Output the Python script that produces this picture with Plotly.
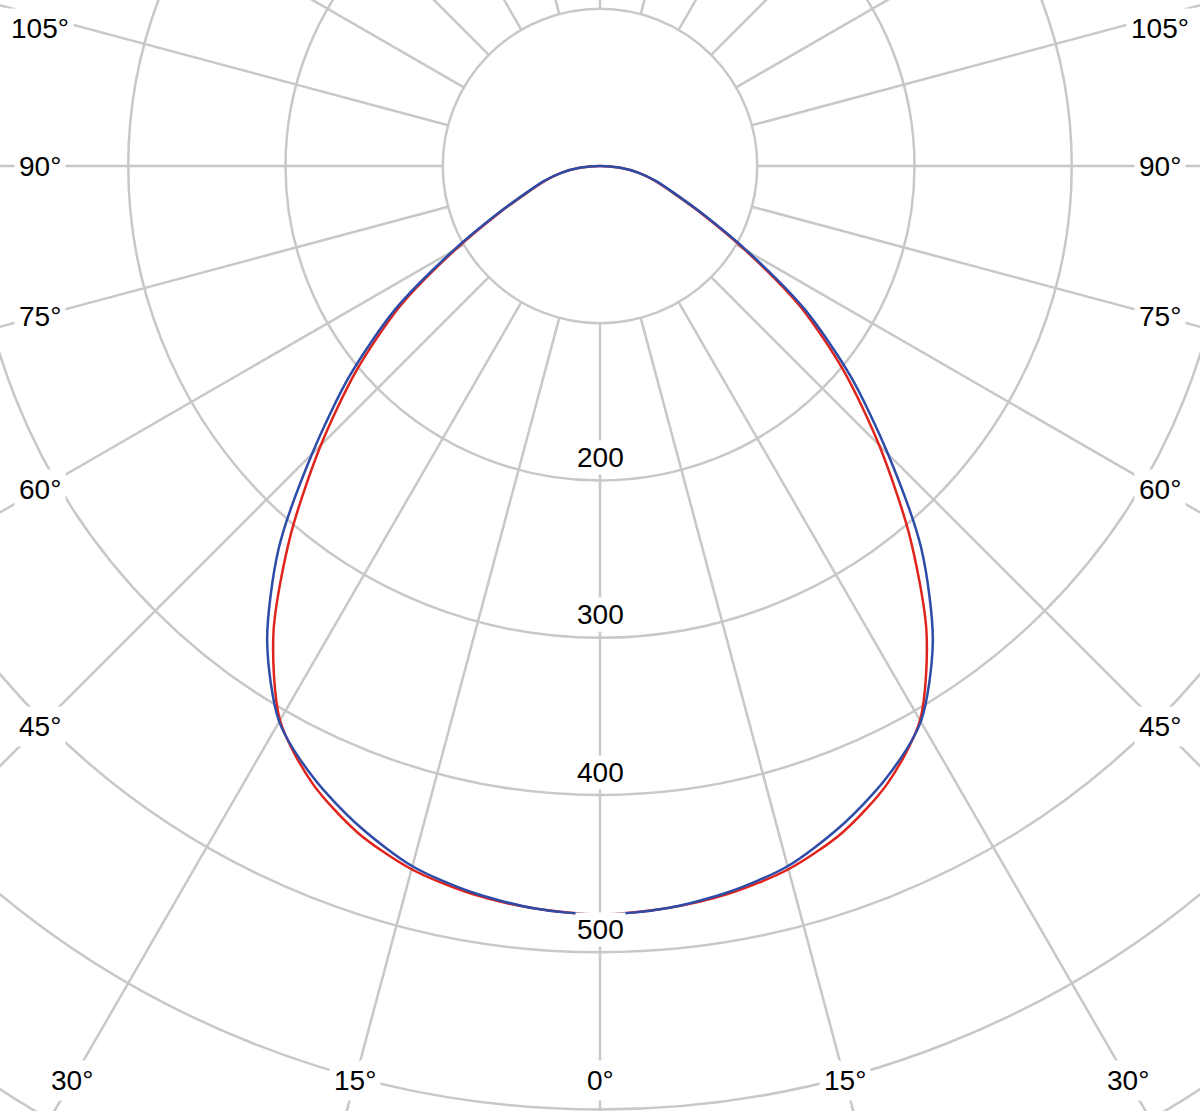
import numpy as np
import plotly.graph_objects as go

# luminous intensity (cd/klm) against gamma angle, 0..90 deg in 5 deg steps
angles = [0, 5, 10, 15, 20, 25, 30, 35, 40, 45, 50, 55, 60, 65, 70, 75, 80, 85, 90]
c0_c180 = [476, 474, 470, 463, 451, 433, 407, 362, 306, 251, 202, 155, 106, 71, 49, 36, 25, 13, 0]
c90_c270 = [476, 474, 469, 461, 447, 430, 408, 369, 318, 259, 208, 159, 108, 72, 50, 37, 25, 13, 0]

rings = [100, 200, 300, 400, 500, 600, 700, 800]
ring_labels = [200, 300, 400, 500]
spoke_angles = list(range(0, 181, 15))
angle_labels = [0, 15, 30, 45, 60, 75, 90, 105]

RED = '#e0241c'
BLUE = '#2c4ca8'
GRID = '#c8c8c8'
FONT = 'Liberation Sans'

W, H = 1200, 1111
scale = 1.5725          # px per cd
cx, cy = 600, 166        # pixel position of the pole
x_lim = (cx - 40) / scale
y_bot = (1080 - cy) / scale
y_top = (cy - 28) / scale


def curve_xy(values):
    r = np.array(values, dtype=float)
    g = np.radians(angles)
    # left half (C180 / C270) then right half (C0 / C90)
    x = np.concatenate([-(r * np.sin(g))[::-1], (r * np.sin(g))[1:]])
    y = np.concatenate([-(r * np.cos(g))[::-1], -(r * np.cos(g))[1:]])
    return x, y


fig = go.Figure()

shapes = []
for r in rings:
    shapes.append(dict(type='circle', xref='x', yref='y', x0=-r, x1=r, y0=-r, y1=r,
                       line=dict(color=GRID, width=2.5), layer='below'))
for a in spoke_angles:
    t = np.radians(a)
    for side in ([1] if a in (0, 180) else [-1, 1]):
        sx, sy = side * np.sin(t), -np.cos(t)
        shapes.append(dict(type='line', xref='x', yref='y',
                           x0=100 * sx, y0=100 * sy, x1=1400 * sx, y1=1400 * sy,
                           line=dict(color=GRID, width=2.5), layer='below'))

for name, vals, col in [('C0 - C180', c0_c180, RED), ('C90 - C270', c90_c270, BLUE)]:
    x, y = curve_xy(vals)
    fig.add_trace(go.Scatter(x=x, y=y, mode='lines', name=name,
                             line=dict(color=col, width=2.5, shape='spline', smoothing=0.8),
                             hoverinfo='skip'))

annotations = []
for v in ring_labels:
    annotations.append(dict(x=0, y=-v + 14.5, xref='x', yref='y', text=str(v),
                            showarrow=False, bgcolor='white', borderpad=1,
                            font=dict(family=FONT, size=28, color='black')))
for a in angle_labels:
    t = np.radians(a)
    for side in ([1] if a == 0 else [-1, 1]):
        sx, sy = side * np.sin(t), -np.cos(t)
        d = x_lim / abs(sx) if abs(sx) > 1e-9 else np.inf
        if sy < 0:
            d = min(d, y_bot / abs(sy))
        annotations.append(dict(x=d * sx, y=min(d * sy, y_top), xref='x', yref='y', text=f'{a}°',
                                showarrow=False, bgcolor='white', borderpad=4,
                                font=dict(family=FONT, size=28, color='black')))

fig.update_layout(
    width=W, height=H,
    margin=dict(l=0, r=0, t=0, b=0),
    paper_bgcolor='white', plot_bgcolor='white',
    showlegend=False,
    shapes=shapes, annotations=annotations,
    xaxis=dict(range=[-cx / scale, (W - cx) / scale], visible=False, fixedrange=True),
    yaxis=dict(range=[-(H - cy) / scale, cy / scale], visible=False, fixedrange=True),
)

# drop the browser's default body margin so the chart sits flush at 0,0
fig.write_html("out.html", config={'displayModeBar': False},
               post_script="document.body.style.margin='0';")
